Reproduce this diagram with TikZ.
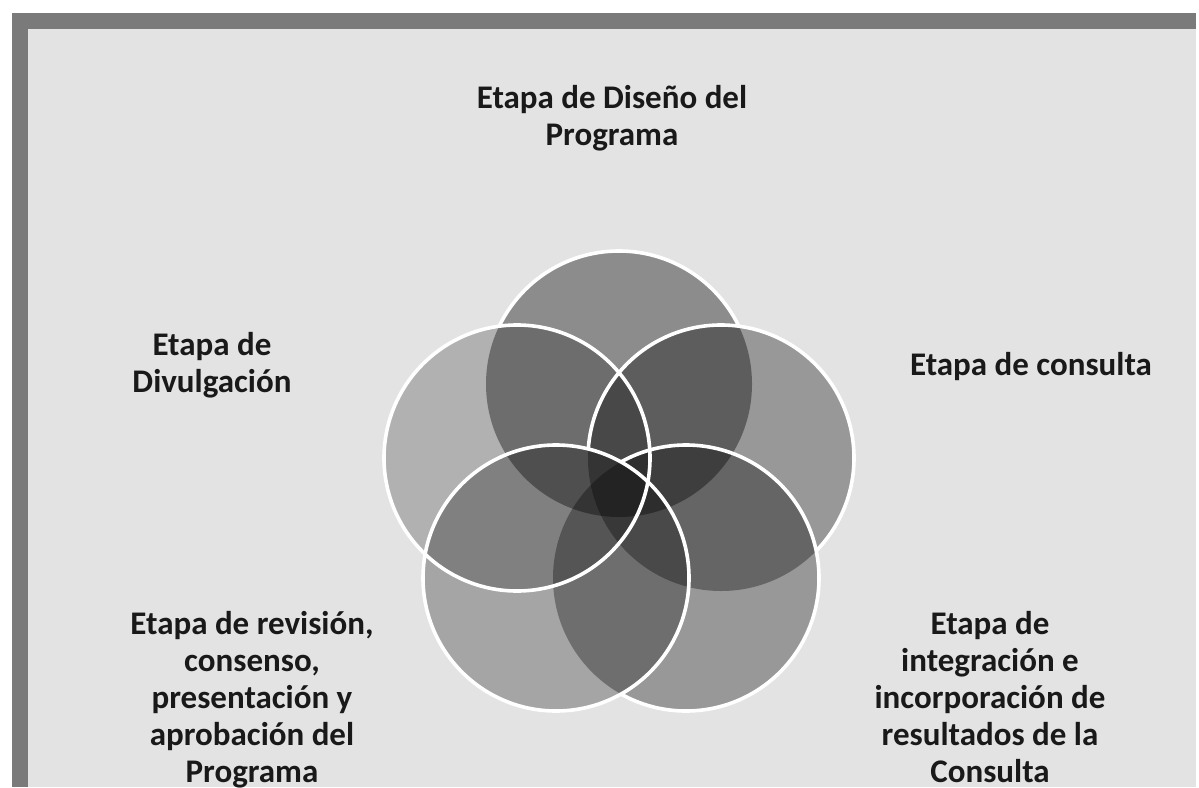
\documentclass[tikz,border=0pt]{standalone}
\usepackage{fontspec}
\setmainfont{Carlito}
\begin{document}
\begin{tikzpicture}[x=1pt,y=-1pt,
  lbl/.style={font=\bfseries\fontsize{33}{37}\selectfont, align=center, text=black!90, inner sep=0pt},
  ring/.style={draw=white, line width=3.6pt},
  disk/.style={fill=black, fill opacity=#1}]
\useasboundingbox (0,0) rectangle (1199,787);
% page frame
\fill[white] (0,0) rectangle (1199,787);
\fill[black!52] (12,13) rectangle (1196,787);
\fill[black!11] (28,29) rectangle (1196,787);
% circle centres
\def\rr{133}
\coordinate (T) at (619,384);
\coordinate (R) at (721,458);
\coordinate (BR) at (686,578);
\coordinate (BL) at (556,578);
\coordinate (L) at (517,458);
% fills
\fill[disk=0.38] (T) circle[radius=\rr];
\fill[disk=0.33] (R) circle[radius=\rr];
\fill[disk=0.33] (BR) circle[radius=\rr];
\fill[disk=0.27] (BL) circle[radius=\rr];
\fill[disk=0.22] (L) circle[radius=\rr];
% outlines
\begin{scope}[even odd rule]
 \clip (0,0) rectangle (1199,787) (R) circle[radius=\rr];
 \begin{scope}[even odd rule]
  \clip (0,0) rectangle (1199,787) (L) circle[radius=\rr];
  \begin{scope}[even odd rule]
   \clip (0,0) rectangle (1199,787) (BL) circle[radius=\rr];
   \begin{scope}[even odd rule]
    \clip (0,0) rectangle (1199,787) (BR) circle[radius=\rr];
    \draw[ring] (T) circle[radius=\rr];
   \end{scope}
  \end{scope}
 \end{scope}
\end{scope}
\begin{scope}[even odd rule]
 \clip (0,0) rectangle (1199,787) (BR) circle[radius=\rr];
 \begin{scope}[even odd rule]
  \clip (0,0) rectangle (1199,787) (BL) circle[radius=\rr];
  \draw[ring] (R) circle[radius=\rr];
 \end{scope}
\end{scope}
\begin{scope}[even odd rule]
 \clip (0,0) rectangle (1199,787) (BL) circle[radius=\rr];
 \draw[ring] (BR) circle[radius=\rr];
\end{scope}
\draw[ring] (BL) circle[radius=\rr];
\draw[ring] (L) circle[radius=\rr];
% labels
\node[lbl] (tT) at (612,118) {Etapa de Diseño del\\Programa};
\node[lbl] (tR) at (1031,367) {Etapa de consulta};
\node[lbl] (tL) at (212,365) {Etapa de\\Divulgación};
\node[lbl, anchor=north] (tBL) at (252,611) {Etapa de revisión,\\consenso,\\presentación y\\aprobación del\\Programa};
\node[lbl, anchor=north] (tBR) at (990,611) {Etapa de\\integración e\\incorporación de\\resultados de la\\Consulta};
\end{tikzpicture}
\end{document}
